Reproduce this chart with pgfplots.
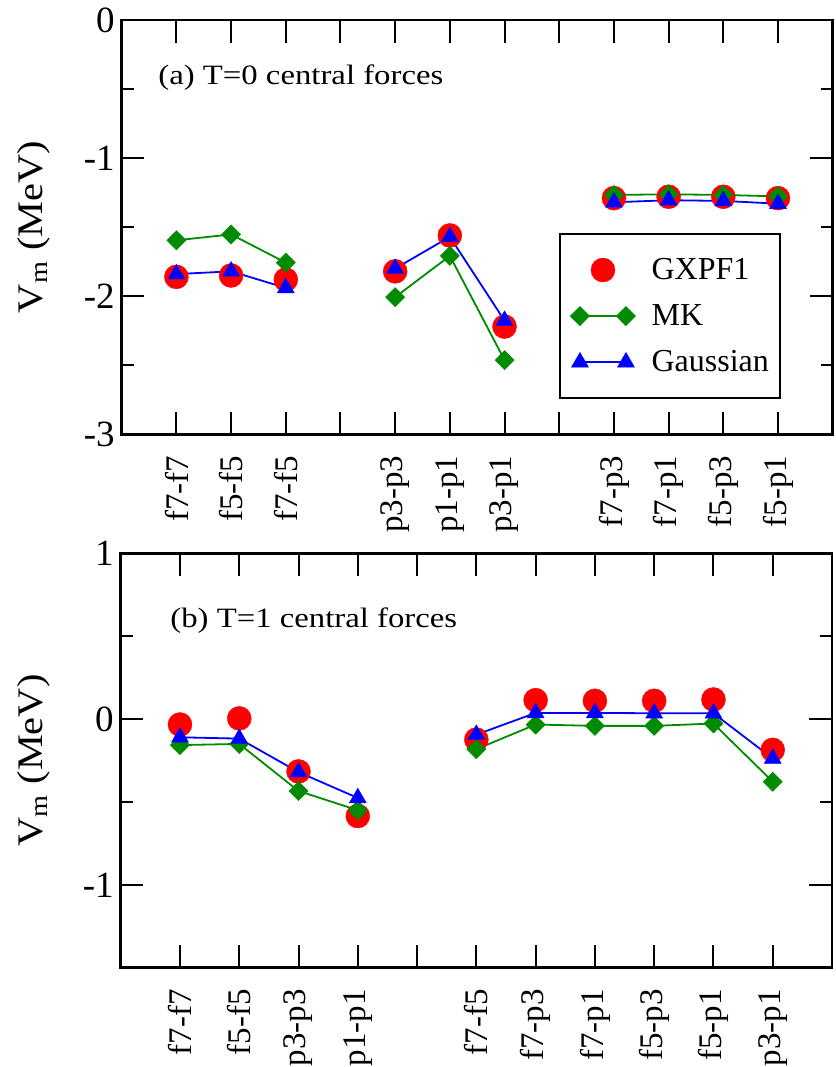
\documentclass[border=0pt]{standalone}
\usepackage{fontspec}
\setmainfont{Liberation Serif}
\newfontfamily\panelfont{Liberation Serif}[FakeStretch=1.17]
\newfontfamily\labfont{Liberation Serif}[FakeStretch=1.12]
\usepackage{pgfplots}
\pgfplotsset{compat=1.18}
\definecolor{mkgreen}{RGB}{0,139,0}
\pgfplotsset{
  panel/.style={
    scale only axis, width=355.5pt, height=207.15pt, anchor=south west,
    axis line style={line width=1.3pt},
    every tick/.style={line width=1pt, black},
    major tick length=11.3pt, minor tick length=6pt,
    tick align=inside, tick pos=both,
    unbounded coords=jump,
    xticklabel style={font=\fontsize{16.5}{19}\selectfont, rotate=90, anchor=east, inner sep=1pt},
    xticklabel shift=9.5pt,
    yticklabel style={font=\fontsize{18.5}{21}\selectfont},
    ylabel style={font=\labfont\fontsize{18}{21}\selectfont, anchor=base},
  },
  gx/.style={only marks, mark=*, mark size=6pt, color=red, mark options={line width=0.2pt},
    legend image code/.code={\path[draw, opacity=0] (-6pt,0pt) -- (29pt,0pt); \draw[##1] plot coordinates {(11.5pt,0pt)};}},
  mk/.style={color=mkgreen, line width=0.9pt, mark=square*, mark size=3.4pt, mark options={rotate=45, line width=0.2pt},
    legend image code/.code={\path[draw, opacity=0] (-6pt,0pt) -- (29pt,0pt); \draw[##1] plot coordinates {(0pt,0pt) (23pt,0pt)};}},
  ga/.style={color=blue, line width=0.9pt, mark=triangle*, mark size=4.9pt, mark options={line width=0.2pt},
    legend image code/.code={\path[draw, opacity=0] (-6pt,0pt) -- (29pt,0pt); \draw[##1] plot coordinates {(0pt,0pt) (23pt,0pt)};}},
}
\begin{document}
\begin{tikzpicture}
\useasboundingbox (0,0) rectangle (418pt,533.5pt);
% ---------------- (a) ----------------
\begin{axis}[panel, at={(60.85pt,316.35pt)},
  xmin=0, xmax=13, ymin=-3, ymax=0,
  xtick={1,2,3,4,5,6,7,8,9,10,11,12},
  xticklabels={f7-f7,f5-f5,f7-f5,,p3-p3,p1-p1,p3-p1,,f7-p3,f7-p1,f5-p3,f5-p1},
  ytick={-3,-2,-1,0}, yticklabels={-3,-2,-1,0},
  minor ytick={-2.5,-1.5,-0.5},
  ylabel={V\textsubscript{m} (MeV)},
  ylabel style={at={(axis description cs:-0.112,0.5)}},
  legend style={at={(0.615,0.486)}, anchor=north west, draw=black, line width=1pt,
    font=\fontsize{16}{19}\selectfont, inner xsep=3.5pt, inner ysep=10pt,
    row sep=7pt, nodes={inner sep=2pt},
    /tikz/every odd column/.append style={column sep=4.3pt}},
  legend cell align=left,
]
\addplot[gx] coordinates {(1,-1.86) (2,-1.85) (3,-1.88) (5,-1.82) (6,-1.56) (7,-2.22) (9,-1.29) (10,-1.28) (11,-1.28) (12,-1.29)};
\addlegendentry{GXPF1}
\addplot[mk] coordinates {(1,-1.595) (2,-1.553) (3,-1.757) (4,nan) (5,-2.007) (6,-1.708) (7,-2.463) (8,nan) (9,-1.267) (10,-1.262) (11,-1.267) (12,-1.277)};
\addlegendentry{MK}
\addplot[ga] coordinates {(1,-1.84) (2,-1.82) (3,-1.94) (4,nan) (5,-1.80) (6,-1.57) (7,-2.177) (8,nan) (9,-1.32) (10,-1.305) (11,-1.31) (12,-1.33)};
\addlegendentry{Gaussian}
\node[anchor=base west, inner sep=0pt, font=\panelfont\fontsize{14}{17}\selectfont] at (rel axis cs:0.051,0.845) {(a) T=0 central forces};
\end{axis}
% ---------------- (b) ----------------
\begin{axis}[panel, at={(60.35pt,49.65pt)},
  width=355.65pt, height=207.2pt,
  xmin=0, xmax=12, ymin=-1.5, ymax=1,
  xtick={1,2,3,4,5,6,7,8,9,10,11},
  xticklabels={f7-f7,f5-f5,p3-p3,p1-p1,,f7-f5,f7-p3,f7-p1,f5-p3,f5-p1,p3-p1},
  ytick={-1,0,1}, yticklabels={-1,0,1},
  minor ytick={-1.5,-0.5,0.5},
  ylabel={V\textsubscript{m} (MeV)},
  ylabel style={at={(axis description cs:-0.110,0.5)}},
]
\addplot[gx] coordinates {(1,-0.033) (2,0.004) (3,-0.316) (4,-0.585) (6,-0.124) (7,0.114) (8,0.11) (9,0.11) (10,0.118) (11,-0.186)};
\addplot[mk] coordinates {(1,-0.157) (2,-0.15) (3,-0.434) (4,-0.55) (5,nan) (6,-0.182) (7,-0.033) (8,-0.041) (9,-0.041) (10,-0.027) (11,-0.378)};
\addplot[ga] coordinates {(1,-0.11) (2,-0.118) (3,-0.32) (4,-0.476) (5,nan) (6,-0.094) (7,0.037) (8,0.037) (9,0.035) (10,0.035) (11,-0.238)};
\node[anchor=base west, inner sep=0pt, font=\panelfont\fontsize{14}{17}\selectfont] at (rel axis cs:0.0693,0.8207) {(b) T=1 central forces};
\end{axis}
\end{tikzpicture}
\end{document}
